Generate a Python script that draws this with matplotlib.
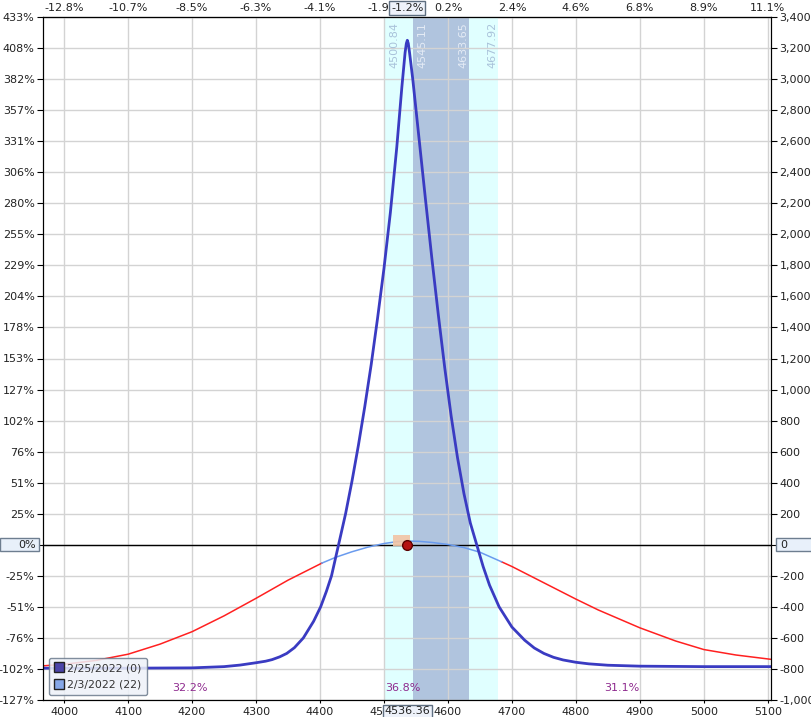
"""
Risk graph: expiration and T+0 P&L curves with price bands.
"""

import matplotlib.pyplot as plt
import matplotlib.transforms as mtransforms
from matplotlib.lines import Line2D
from matplotlib.patches import Rectangle

# %% Data
price = 4536.36
price_pct = "-1.2%"

# expiration curve 2/25/2022 (0)
exp_x = [3967, 4100, 4200, 4250, 4275, 4300, 4315, 4325, 4337, 4348, 4360,
         4374, 4390, 4401, 4410, 4418, 4429, 4440, 4450, 4460, 4470, 4480,
         4490, 4500, 4510, 4520, 4528, 4533, 4535, 4536.5, 4538, 4540, 4545,
         4555, 4565, 4575, 4585, 4595, 4605, 4615, 4625, 4635, 4645, 4655,
         4665, 4680, 4700, 4720, 4735, 4750, 4765, 4780, 4800, 4820, 4850,
         4900, 5000, 5105]
exp_y = [-795, -795, -793, -785, -775, -760, -750, -740, -722, -700, -663,
         -600, -493, -400, -300, -200, 0, 200, 410, 640, 890, 1160,
         1460, 1780, 2140, 2560, 2950, 3170, 3230, 3250, 3230, 3170, 3000,
         2610, 2220, 1840, 1480, 1140, 830, 560, 330, 140, 0, -140,
         -260, -400, -530, -615, -665, -700, -725, -742, -757, -767, -776,
         -782, -785, -785]

# T+0 curve 2/3/2022 (22)
t0_x = [3967, 4000, 4050, 4100, 4150, 4200, 4250, 4300, 4350, 4403, 4425,
        4450, 4475, 4500, 4520, 4536, 4555, 4575, 4600, 4625, 4650, 4684,
        4700, 4750, 4800, 4835, 4900, 4956, 5000, 5050, 5105]
t0_y = [-780, -770, -745, -705, -640, -560, -458, -345, -228, -118, -80,
        -45, -15, 8, 20, 24, 22, 15, 2, -18, -48, -110,
        -140, -245, -350, -420, -535, -620, -675, -710, -738]
t0_in = (4403, 4684)  # segment drawn light blue

# bands
outer_band = (4500.84, 4677.92)
inner_band = (4545.11, 4633.65)
band_labels = ["4500.84", "4545.11", "4633.65", "4677.92"]

# axes
xticks = list(range(4000, 5101, 100))
top_labels = ["-12.8%", "-10.7%", "-8.5%", "-6.3%", "-4.1%", "-1.9%",
              "0.2%", "2.4%", "4.6%", "6.8%", "8.9%", "11.1%"]
yticks = list(range(-1000, 3401, 200))
left_labels = ["-127%", "-102%", "-76%", "-51%", "-25%", "", "25%", "51%",
               "76%", "102%", "127%", "153%", "178%", "204%", "229%", "255%",
               "280%", "306%", "331%", "357%", "382%", "408%", "433%"]

# probability labels
prob_x = [4197, 4530, 4872]
prob_txt = ["32.2%", "36.8%", "31.1%"]
prob_y = -921

# %% Plot
W, H = 812, 717
fig = plt.figure(figsize=(W / 100, H / 100), dpi=100)
ax = fig.add_axes([43 / W, 17 / H, 728 / W, 683 / H])
ax.set_xlim(3967, 5105)
ax.set_ylim(-1000, 3400)

ax.axvspan(*outer_band, color="#E0FFFF", zorder=0.5, lw=0)
ax.axvspan(*inner_band, color="#B0C4DE", zorder=0.6, lw=0)

ax.set_xticks(xticks)
ax.set_yticks(yticks)
ax.set_yticklabels(left_labels)
ax.grid(color="#D3D3D3", lw=1)
ax.tick_params(labelsize=8, labelcolor="#222", length=4, pad=2)
ax.tick_params(axis="x", length=2, pad=3)
for sp in ax.spines.values():
    sp.set_color("black")

ax.axhline(0, color="black", lw=1, zorder=2.2)

# T+0 curve, red outside and light blue inside
red_l = [(x, y) for x, y in zip(t0_x, t0_y) if x <= t0_in[0]]
red_r = [(x, y) for x, y in zip(t0_x, t0_y) if x >= t0_in[1]]
blue = [(x, y) for x, y in zip(t0_x, t0_y) if t0_in[0] <= x <= t0_in[1]]
for seg, c in [(red_l, "#FF2020"), (red_r, "#FF2020"), (blue, "#6A9BEE")]:
    ax.plot([p[0] for p in seg], [p[1] for p in seg], color=c, lw=1.1,
            zorder=2.3)

ax.plot(exp_x, exp_y, color="#3A3BC2", lw=2, zorder=2.5)

ax.add_patch(Rectangle((price - 22, -10), 27, 70, facecolor="#F2C4A4",
                       edgecolor="none", alpha=0.9, zorder=2.6))
ax.plot(price, 0, "o", ms=7, mfc="#B41212", mec="#5A0000", mew=1, zorder=3)

for x, t in zip(prob_x, prob_txt):
    ax.text(x, prob_y, t, color="#8E2A8E", fontsize=8, ha="center",
            va="center")

# band edge labels
edges = [outer_band[0], inner_band[0], inner_band[1], outer_band[1]]
offs = [7, 7, -4, -4]
cols = ["#A9C2DA", "#E4EBF5", "#E4EBF5", "#A9C2DA"]
for e, lab, o, c in zip(edges, band_labels, offs, cols):
    ax.annotate(lab, xy=(e, 1), xycoords=("data", "axes fraction"),
                xytext=(o, -3.5), textcoords="offset points", rotation=90,
                ha="center", va="top", fontsize=8, color=c)

# right axis
ax2 = ax.twinx()
ax2.set_ylim(ax.get_ylim())
ax2.set_yticks(yticks)
ax2.set_yticklabels(["" if v == 0 else f"{v:,}" for v in yticks])
ax2.tick_params(labelsize=8, labelcolor="#222", length=4, pad=2)

# top axis
secx = ax.secondary_xaxis("top")
secx.set_xticks(xticks, labels=top_labels)
secx.tick_params(labelsize=8, labelcolor="#222", length=0, pad=3)

# boxed current-price labels
box = dict(boxstyle="square,pad=0.15", facecolor="#EEF2FA",
           edgecolor="#5E6E80", lw=1)
ax.annotate(price_pct, xy=(price, 1), xycoords=("data", "axes fraction"),
            xytext=(0, 3), textcoords="offset points", ha="center",
            va="bottom", fontsize=8, color="#222", bbox=box, zorder=5)
ax.annotate(f"{price:.2f}", xy=(price, 0), xycoords=("data", "axes fraction"),
            xytext=(0, -4.5), textcoords="offset points", ha="center",
            va="top", fontsize=8, color="#222", bbox=box, zorder=5)

blend = mtransforms.blended_transform_factory(fig.transFigure, ax.transData)
fig.add_artist(Rectangle((0, -42), 39 / W, 84, transform=blend,
                         facecolor="#E8F0FA", edgecolor="#6E7E90", lw=1))
fig.text(36 / W, 0, "0%", transform=blend, ha="right", va="center",
         fontsize=8, color="#222")
fig.add_artist(Rectangle((776 / W, -42), 36 / W, 84, transform=blend,
                         facecolor="#E8F0FA", edgecolor="#6E7E90", lw=1))
fig.text(780 / W, 0, "0", transform=blend, ha="left", va="center",
         fontsize=8, color="#222")

# legend
handles = [
    Line2D([], [], marker="s", ls="none", ms=7, mfc="#4B44A8", mec="#222"),
    Line2D([], [], marker="s", ls="none", ms=7, mfc="#86A8E8", mec="#222"),
]
leg = ax.legend(handles, ["2/25/2022 (0)", "2/3/2022 (22)"],
                loc="lower left", bbox_to_anchor=(6 / 728, 5 / 683),
                borderaxespad=0, fontsize=7.8, labelcolor="#333",
                handlelength=0.8, handletextpad=0.35, labelspacing=0.6,
                borderpad=0.5, fancybox=True, framealpha=0.85,
                facecolor="#EEF2F9", edgecolor="#6B7A8C")
leg.set_zorder(6)

fig.savefig("out.png", dpi=100)
